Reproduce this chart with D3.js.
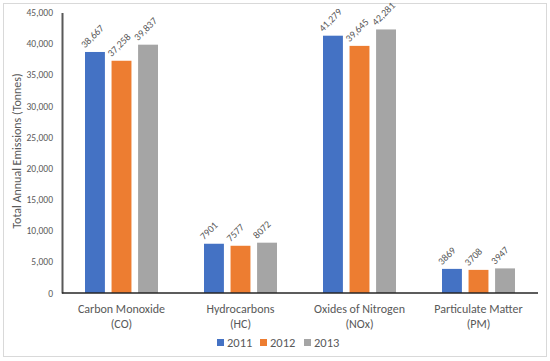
<!DOCTYPE html>
<html>
<head>
<meta charset="utf-8">
<script src="https://cdn.jsdelivr.net/npm/d3@7"></script>
<style>
  body { margin: 0; background: #fff; }
  text { font-family: Calibri, Carlito, "Open Sans", "Liberation Sans", sans-serif; fill: #595959; }
</style>
</head>
<body>
<svg id="chart" width="550" height="361"></svg>
<script>
var categories = [["Carbon Monoxide", "(CO)"], ["Hydrocarbons", "(HC)"], ["Oxides of Nitrogen", "(NOx)"], ["Particulate Matter", "(PM)"]];
var years = ["2011", "2012", "2013"];
var values2011 = [38667, 7901, 41279, 3869];
var values2012 = [37258, 7577, 39645, 3708];
var values2013 = [39837, 8072, 42281, 3947];
var labels2011 = ["38,667", "7901", "41,279", "3869"];
var labels2012 = ["37,258", "7577", "39,645", "3708"];
var labels2013 = ["39,837", "8072", "42,281", "3947"];
var yTicks = [0, 5000, 10000, 15000, 20000, 25000, 30000, 35000, 40000, 45000];
var colors = ["#4472C4", "#ED7D31", "#A5A5A5"];

var svg = d3.select("#chart"),
    margin = {top: 12.5, right: 12, bottom: 68, left: 62},
    width = 550 - margin.left - margin.right,
    height = 361 - margin.top - margin.bottom;

// outer frame
svg.append("rect")
    .attr("x", 3.5).attr("y", 3.5)
    .attr("width", 543).attr("height", 353)
    .attr("fill", "#fff")
    .attr("stroke", "#d9d9d9");

var g = svg.append("g").attr("transform", "translate(" + margin.left + "," + margin.top + ")");

var series = [values2011, values2012, values2013];
var seriesLabels = [labels2011, labels2012, labels2013];

var x0 = d3.scaleBand().domain(d3.range(categories.length)).range([0, width]).paddingInner(0).paddingOuter(0);
var x1 = d3.scaleBand().domain(d3.range(years.length)).range([0, 73]).paddingInner(0.25);
var y = d3.scaleLinear().domain([0, 45000]).range([height, 0]);

// y axis
var yAxis = g.append("g")
    .call(d3.axisLeft(y).tickValues(yTicks).tickFormat(d3.format(",")).tickSize(0).tickPadding(9));
yAxis.select(".domain").attr("stroke", "#595959").attr("stroke-width", 2);
yAxis.selectAll("text").style("font-size", "9.5px").attr("fill", "#595959");

// bars
var groups = g.selectAll(".grp")
    .data(categories)
    .enter().append("g")
    .attr("class", "grp")
    .attr("transform", function(d, i) { return "translate(" + (x0(i) + (x0.bandwidth() - 73) / 2) + ",0)"; });

groups.each(function(c, ci) {
  var grp = d3.select(this);
  series.forEach(function(s, si) {
    grp.append("rect")
        .attr("x", x1(si))
        .attr("y", y(s[ci]))
        .attr("width", x1.bandwidth())
        .attr("height", height - y(s[ci]))
        .attr("fill", colors[si]);
    var cx = x1(si);
    var cy = y(s[ci]) - 3.5;
    grp.append("text")
        .attr("transform", "translate(" + cx + "," + cy + ") rotate(-45)")
        .attr("text-anchor", "start")
        .style("font-size", "10px")
        .text(seriesLabels[si][ci]);
  });
});

// x axis
g.append("line")
    .attr("x1", 0).attr("x2", width)
    .attr("y1", height).attr("y2", height)
    .attr("stroke", "#262626").attr("stroke-width", 1.5);

var xl = g.selectAll(".xlab")
    .data(categories)
    .enter().append("text")
    .attr("class", "xlab")
    .attr("text-anchor", "middle")
    .attr("x", function(d, i) { return x0(i) + x0.bandwidth() / 2; })
    .attr("y", height + 20)
    .style("font-size", "12px");
xl.append("tspan").attr("x", function(d, i) { return x0(i) + x0.bandwidth() / 2; }).text(function(d) { return d[0]; });
xl.append("tspan").attr("x", function(d, i) { return x0(i) + x0.bandwidth() / 2; }).attr("dy", 15).text(function(d) { return d[1]; });

// y title
svg.append("text")
    .attr("transform", "translate(21,151) rotate(-90)")
    .attr("text-anchor", "middle")
    .style("font-size", "12px")
    .text("Total Annual Emissions (Tonnes)");

// legend
var legendX = [217, 260, 304];
var legend = svg.selectAll(".leg")
    .data(years)
    .enter().append("g")
    .attr("class", "leg")
    .attr("transform", function(d, i) { return "translate(" + legendX[i] + ",339)"; });
legend.append("rect").attr("width", 7).attr("height", 7).attr("fill", function(d, i) { return colors[i]; });
legend.append("text").attr("x", 10).attr("y", 7.5).style("font-size", "12.5px").text(function(d) { return d; });
</script>
</body>
</html>
